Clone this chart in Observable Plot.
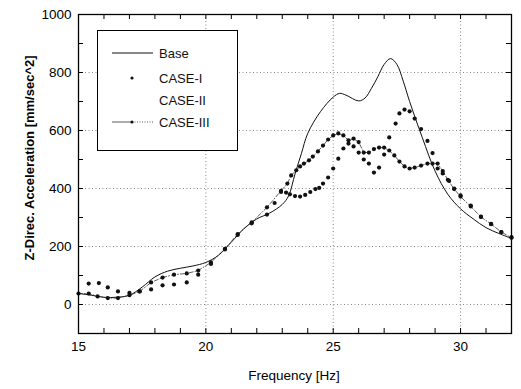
<!DOCTYPE html>
<html>
<head>
<meta charset="utf-8">
<script src="https://cdn.jsdelivr.net/npm/d3@7"></script>
<script src="https://cdn.jsdelivr.net/npm/@observablehq/plot@0.6"></script>
<style>
  html, body { margin: 0; padding: 0; background: #fff; }
  #chart svg { display: block; }
</style>
</head>
<body>
<div id="chart"></div>
<script>
// ---- data ----
const baseF = [15.0, 15.5, 16.0, 16.5, 17.0, 17.5, 18.0, 18.5, 19.0, 19.5, 20.0, 20.5, 21.0, 21.5, 22.0, 22.5, 23.0, 23.25, 23.5, 23.75, 24.0, 24.5, 25.0, 25.25, 25.5, 26.0, 26.25, 26.5, 26.75, 27.0, 27.25, 27.5, 27.75, 28.0, 28.5, 29.0, 29.5, 30.0, 30.5, 31.0, 31.5, 32.0];
const baseV = [38, 32, 25, 25, 32, 60, 95, 115, 125, 133, 145, 170, 215, 262, 295, 315, 345, 375, 450, 520, 590, 665, 715, 728, 722, 702, 712, 745, 785, 828, 848, 828, 770, 700, 575, 460, 380, 330, 295, 265, 245, 228];

const case1F = [15.4, 15.8, 16.15, 16.55, 17.0, 17.4, 17.85, 18.3, 18.75, 19.25, 19.7, 20.2, 20.75, 21.25, 21.8, 22.4, 22.7, 22.95, 23.15, 23.3, 23.5, 23.7, 23.9, 24.1, 24.3, 24.45, 24.6, 24.8, 25.0, 25.2, 25.4, 25.6, 25.8, 26.0, 26.2, 26.4, 26.6, 26.8, 27.0, 27.2, 27.45, 27.6, 27.8, 28.0, 28.2, 28.45, 28.7, 28.9, 29.1, 29.3, 29.55, 29.75, 30.0, 30.4, 30.8, 31.2, 31.6, 32.0];
const case1V = [72, 74, 59, 45, 40, 45, 52, 66, 69, 76, 103, 140, 190, 240, 280, 310, 350, 388, 386, 380, 374, 372, 378, 388, 398, 402, 417, 438, 469, 503, 538, 555, 545, 524, 500, 486, 455, 472, 517, 576, 624, 659, 672, 666, 641, 605, 564, 522, 469, 452, 426, 400, 376, 341, 303, 278, 250, 232];

const case3F = [15.0, 15.4, 15.75, 16.15, 16.55, 17.0, 17.4, 17.85, 18.3, 18.75, 19.25, 19.7, 20.2, 20.75, 21.25, 21.8, 22.4, 22.95, 23.2, 23.35, 23.55, 23.7, 23.85, 24.05, 24.2, 24.4, 24.6, 24.8, 25.0, 25.2, 25.4, 25.6, 25.8, 26.0, 26.2, 26.4, 26.6, 26.8, 27.0, 27.2, 27.4, 27.6, 27.8, 28.0, 28.2, 28.45, 28.7, 28.9, 29.1, 29.3, 29.5, 29.75, 30.0, 30.4, 30.8, 31.2, 31.6, 32.0];
const case3V = [38, 38, 28, 22, 22, 32, 45, 76, 93, 103, 107, 117, 145, 192, 243, 283, 335, 392, 417, 445, 463, 476, 486, 497, 510, 528, 548, 569, 583, 590, 583, 566, 572, 560, 524, 524, 536, 541, 541, 531, 514, 493, 476, 469, 472, 479, 486, 486, 486, 460, 430, 398, 372, 338, 302, 277, 250, 230];

const xTickLabels = [15, 20, 25, 30];
const yTickLabels = [0, 200, 400, 600, 800, 1000];
const xMinorTicks = [15, 16, 17, 18, 19, 20, 21, 22, 23, 24, 25, 26, 27, 28, 29, 30, 31, 32];
const yMinorTicks = [-100, 0, 100, 200, 300, 400, 500, 600, 700, 800, 900, 1000];

const seriesNames = ["Base", "CASE-I", "CASE-II", "CASE-III"];
const xLabel = "Frequency [Hz]";
const yLabel = "Z-Direc. Acceleration [mm/sec^2]";

// ---- tables ----
const base = baseF.map((f, i) => ({f, v: baseV[i]}));
const case1 = case1F.map((f, i) => ({f, v: case1V[i]}));
const case3 = case3F.map((f, i) => ({f, v: case3V[i]}));

const W = 521, H = 389;
const mL = 78, mR = 10, mT = 14, mB = 56;
const fw = W - mL - mR, fh = H - mT - mB;
const tk = 5;

const chart = Plot.plot({
  width: W, height: H,
  marginLeft: mL, marginRight: mR, marginTop: mT, marginBottom: mB,
  style: {fontFamily: "'Liberation Sans', Arial, sans-serif", fontSize: "13px", background: "#fff"},
  x: {domain: [15, 32]},
  y: {domain: [-100, 1000]},
  marks: [
    Plot.gridX(xTickLabels.slice(1), {stroke: "#555", strokeOpacity: 0.7, strokeDasharray: "1,2.5"}),
    Plot.gridY(yTickLabels.slice(0, -1), {stroke: "#555", strokeOpacity: 0.7, strokeDasharray: "1,2.5"}),
    Plot.ruleX(xMinorTicks, {x: d => d, insetTop: fh - tk, stroke: "black"}),
    Plot.ruleX(xMinorTicks, {x: d => d, insetBottom: fh - tk, stroke: "black"}),
    Plot.ruleY(yMinorTicks, {y: d => d, insetRight: fw - tk, stroke: "black"}),
    Plot.ruleY(yMinorTicks, {y: d => d, insetLeft: fw - tk, stroke: "black"}),
    Plot.line(base, {x: "f", y: "v", curve: "catmull-rom", stroke: "#111", strokeWidth: 1}),
    Plot.line(case3, {x: "f", y: "v", stroke: "#333", strokeWidth: 0.8, strokeDasharray: "4,2,1,2"}),
    Plot.dot(case3, {x: "f", y: "v", r: 2.1, fill: "#111", stroke: "none"}),
    Plot.dot(case1, {x: "f", y: "v", r: 2.1, fill: "#111", stroke: "none"}),
    Plot.frame({stroke: "black", strokeWidth: 1.3}),
    Plot.axisX(xTickLabels, {tickSize: 0, tickPadding: 8, label: null, fontSize: 13.5, tickFormat: d => String(d)}),
    Plot.axisY(yTickLabels, {tickSize: 0, tickPadding: 7, label: null, fontSize: 13.5, tickFormat: d => String(d)}),
    Plot.text([xLabel], {text: d => d, frameAnchor: "bottom", textAnchor: "middle", dy: 46, dx: -1, fontSize: 13.5}),
    Plot.text([yLabel], {text: d => d, frameAnchor: "left", textAnchor: "middle", rotate: -90, dx: -49, dy: -16, fontSize: 13, fontWeight: "bold"})
  ]
});

document.getElementById("chart").appendChild(chart);

// ---- legend box ----
const svg = d3.select(chart);
const lg = svg.append("g").attr("font-family", "'Liberation Sans', Arial, sans-serif").attr("font-size", 13).attr("text-anchor", "start");
lg.append("rect").attr("x", 97.5).attr("y", 30.5).attr("width", 140).attr("height", 120)
  .attr("fill", "white").attr("stroke", "black").attr("stroke-width", 1);
const rowsY = [53, 78, 100, 122];
// Base sample
lg.append("line").attr("x1", 112).attr("x2", 153).attr("y1", rowsY[0]).attr("y2", rowsY[0]).attr("stroke", "#111").attr("stroke-width", 1);
// CASE-I sample
lg.append("circle").attr("cx", 132).attr("cy", rowsY[1]).attr("r", 1.6).attr("fill", "#111");
// CASE-III sample
lg.append("line").attr("x1", 112).attr("x2", 132).attr("y1", rowsY[3]).attr("y2", rowsY[3]).attr("stroke", "#333").attr("stroke-width", 0.8);
lg.append("line").attr("x1", 132).attr("x2", 153).attr("y1", rowsY[3]).attr("y2", rowsY[3]).attr("stroke", "#333").attr("stroke-width", 0.8).attr("stroke-dasharray", "1,1.5");
lg.append("circle").attr("cx", 132).attr("cy", rowsY[3]).attr("r", 1.6).attr("fill", "#111");
seriesNames.forEach((n, i) => {
  lg.append("text").attr("x", 159).attr("y", rowsY[i]).attr("dy", "0.35em").attr("fill", "#111").attr("text-anchor", "start").text(n);
});
</script>
</body>
</html>
